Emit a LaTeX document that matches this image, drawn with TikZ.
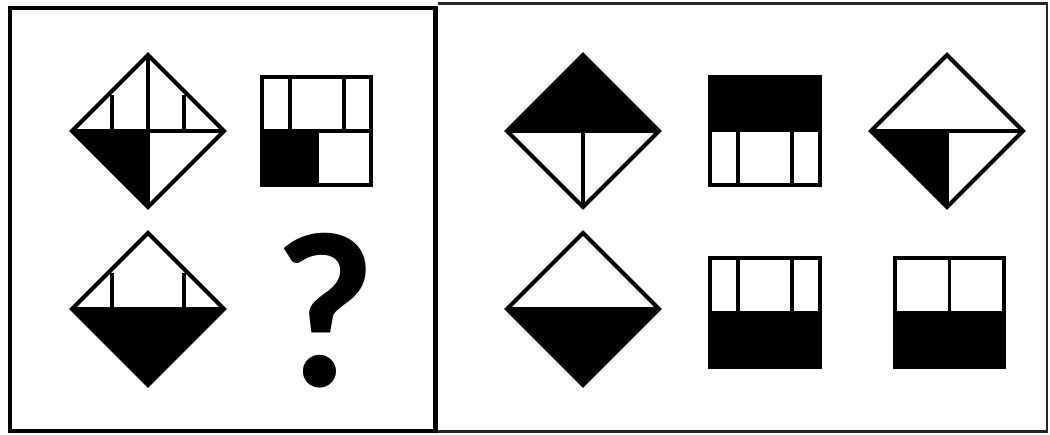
\documentclass[tikz,border=0pt]{standalone}
\usepackage{fontspec}
\newfontfamily\qfont{Carlito}
\begin{document}
\begin{tikzpicture}[x=1pt,y=-1pt,
  fig/.style={line width=4, line join=miter, draw=black},
  inner/.style={line width=3.6, draw=black},
  blk/.style={fill=black, draw=none},
  frameL/.style={line width=4.5, draw=black},
  frameR/.style={line width=2.2, draw=black!85}]
\useasboundingbox (0,0) rectangle (1050,435);
\fill[white] (0,0) rectangle (1050,435);
% frames
\draw[frameR] (438,3.5) -- (1047,3.5) -- (1047,431.5) -- (438,431.5);
\draw[frameL] (10,8) rectangle (435.5,431);
% ---------- Diamond 1 (148,131)
\fill[blk] (72,131) -- (148,131) -- (148,207) -- cycle;
\draw[inner] (72,131) -- (224,131) (148,55) -- (148,207)
  (112,131) -- (112,95) (184,131) -- (184,95);
\draw[fig] (148,55) -- (224,131) -- (148,207) -- (72,131) -- cycle;
% ---------- Square 1
\fill[blk] (262,131) rectangle (317,185);
\draw[inner] (262,131) -- (371,131) (290,77) -- (290,131) (344,77) -- (344,131)
  (317,131) -- (317,185);
\draw[fig] (262,77) rectangle (371,185);
% ---------- Diamond 2 (148,309)
\fill[blk] (72,309) -- (224,309) -- (148,385) -- cycle;
\draw[inner] (72,309) -- (224,309) (112,309) -- (112,273) (184,309) -- (184,273);
\draw[fig] (148,233) -- (224,309) -- (148,385) -- (72,309) -- cycle;
% ---------- Question mark
\node[inner sep=0, anchor=base] (q) at (325,387) {\qfont\bfseries\fontsize{222}{222}\selectfont ?};
% ---------- Diamond A (583,131)
\fill[blk] (507,131) -- (583,55) -- (659,131) -- cycle;
\draw[inner] (507,131) -- (659,131) (583,131) -- (583,207);
\draw[fig] (583,55) -- (659,131) -- (583,207) -- (507,131) -- cycle;
% ---------- Square B
\fill[blk] (710,77) rectangle (820,132);
\draw[inner] (738,132) -- (738,185) (792,132) -- (792,185);
\draw[fig] (710,77) rectangle (820,185);
% ---------- Diamond C (947,131)
\fill[blk] (871,131) -- (947,131) -- (947,207) -- cycle;
\draw[inner] (871,131) -- (1023,131) (947,131) -- (947,207);
\draw[fig] (947,55) -- (1023,131) -- (947,207) -- (871,131) -- cycle;
% ---------- Diamond D (583,309)
\fill[blk] (507,309) -- (659,309) -- (583,385) -- cycle;
\draw[inner] (507,309) -- (659,309);
\draw[fig] (583,233) -- (659,309) -- (583,385) -- (507,309) -- cycle;
% ---------- Square E
\fill[blk] (710,311) rectangle (820,367);
\draw[inner] (738,258) -- (738,311) (792,258) -- (792,311);
\draw[fig] (710,258) rectangle (820,367);
% ---------- Square F
\fill[blk] (895,311) rectangle (1004,367);
\draw[inner] (949.5,258) -- (949.5,311);
\draw[fig] (895,258) rectangle (1004,367);
\end{tikzpicture}
\end{document}
